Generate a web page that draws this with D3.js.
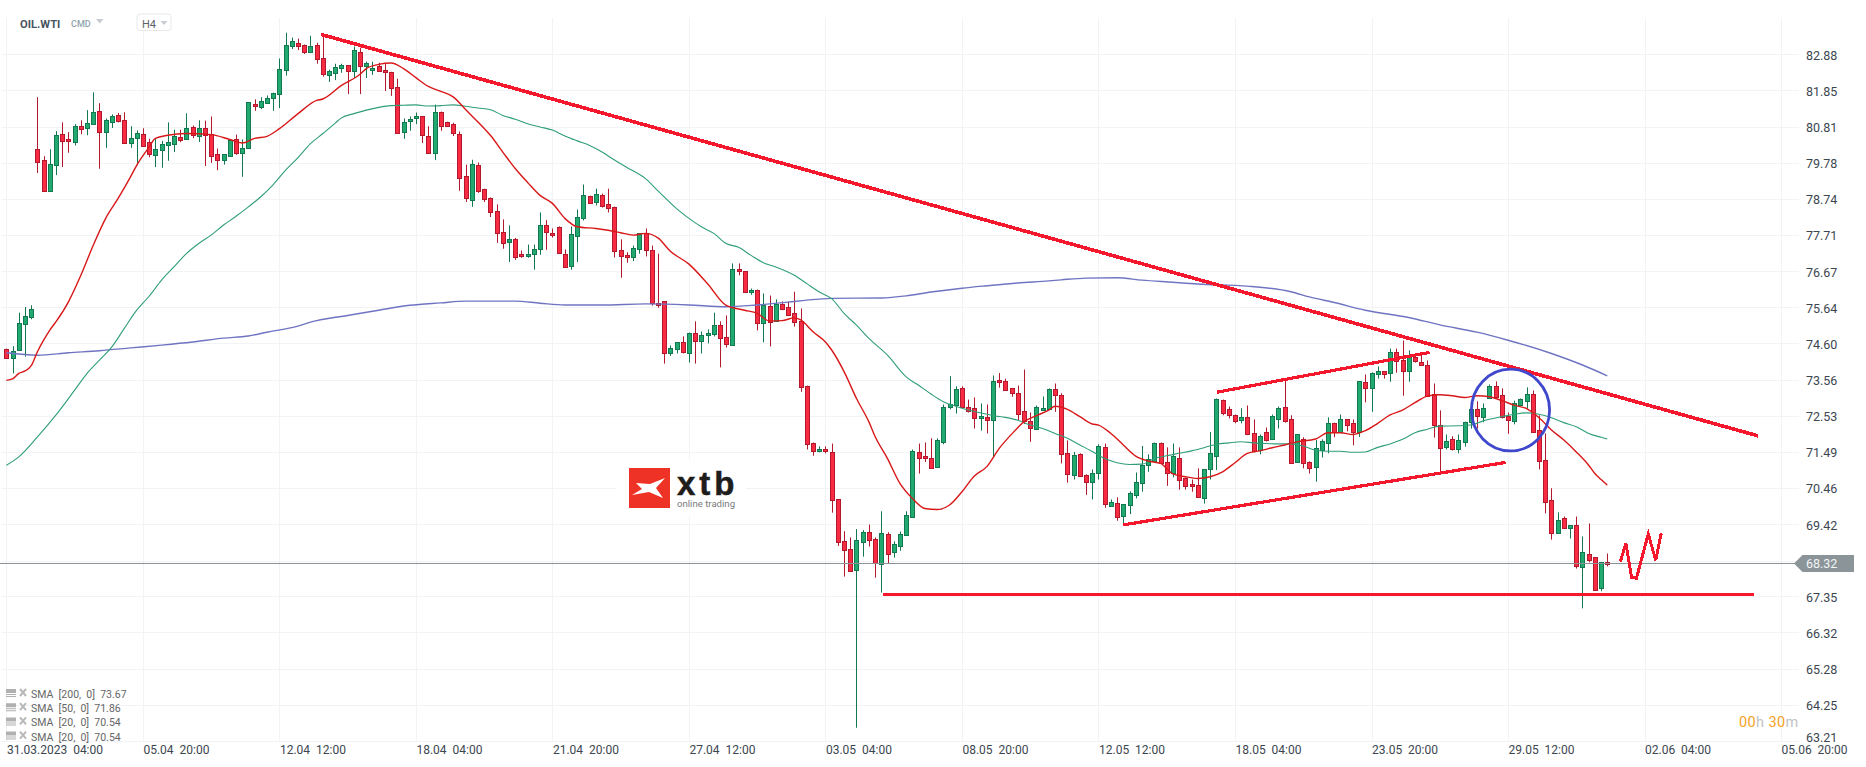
<!DOCTYPE html>
<html><head><meta charset="utf-8">
<script src="https://cdn.jsdelivr.net/npm/d3@7"></script>
<style>html,body{margin:0;padding:0;background:#fff}svg{display:block;font-family:Roboto,sans-serif}</style>
</head><body><svg id="c" width="1866" height="767"></svg>
<script>
const opens=[74.45,74.20,74.39,75.14,75.33,80.18,79.86,78.98,79.72,80.61,
80.44,80.37,80.84,80.78,80.90,81.27,80.66,80.94,81.13,81.01,
80.34,80.49,80.61,80.38,80.00,80.14,80.28,80.31,80.52,80.46,
80.81,80.55,80.78,80.61,80.01,79.85,79.97,80.44,80.06,80.17,
81.47,81.37,81.50,81.64,81.74,82.44,83.13,83.21,83.16,82.95,
83.16,82.78,82.30,82.36,82.49,82.57,82.40,82.96,82.55,82.44,
82.55,82.44,82.38,81.95,80.67,80.98,81.04,81.10,80.55,80.06,
81.24,80.95,80.87,80.61,79.38,78.71,79.72,79.03,78.75,78.38,
77.80,77.52,77.60,77.15,77.09,77.15,77.29,77.98,77.77,77.92,
77.17,76.79,77.69,78.20,78.83,78.66,78.86,78.58,78.52,77.26,
77.12,77.06,77.29,77.75,77.26,75.77,75.80,74.34,74.43,74.63,
74.34,74.91,74.65,74.85,74.88,75.14,74.77,74.57,76.74,76.66,
76.08,76.14,75.20,75.68,75.26,75.74,75.63,75.46,75.23,73.38,
71.76,71.50,71.56,71.50,70.13,68.93,68.70,68.09,68.92,69.21,
68.99,68.27,69.13,68.60,68.78,69.10,69.64,71.50,71.36,71.33,
71.05,71.79,72.76,72.82,73.31,72.79,72.74,72.45,72.48,72.39,
73.54,73.51,73.31,73.19,72.65,72.39,72.16,72.71,72.71,73.28,
73.11,71.45,70.82,71.42,70.82,70.65,70.87,71.62,69.96,70.02,
69.64,69.96,70.25,70.62,71.13,71.25,71.76,71.19,70.87,71.33,
70.73,70.56,70.53,70.16,70.99,71.39,72.99,72.71,72.56,72.39,
72.48,72.02,71.53,72.05,71.85,72.45,72.79,72.42,71.19,71.85,
71.19,71.05,71.53,71.76,72.33,72.05,72.42,72.31,72.05,73.48,
73.31,73.71,73.80,73.74,74.34,74.11,73.79,74.20,74.08,73.99,
73.14,72.25,71.62,71.85,71.56,71.79,72.34,72.71,72.51,73.05,
73.37,73.11,72.51,72.36,72.85,72.96,73.16,72.11,71.25,70.10,
69.16,69.59,69.30,69.39,68.18,68.58,68.47,67.58,68.33];
const highs=[74.45,74.52,75.48,75.64,75.69,81.65,79.96,80.16,80.68,80.93,
80.65,80.88,80.99,81.28,81.79,81.48,81.04,81.16,81.20,81.22,
80.82,80.70,80.76,80.46,80.45,80.40,80.93,80.72,80.72,81.19,
80.84,80.99,80.98,81.10,80.18,80.01,80.43,80.58,80.44,81.50,
81.59,81.65,81.70,81.78,82.76,83.50,83.36,83.33,83.16,83.41,
83.21,83.44,82.44,82.61,82.61,82.57,83.10,83.07,82.67,82.67,
82.64,82.61,82.38,82.18,81.04,81.10,81.21,81.10,80.82,81.44,
81.24,80.95,80.92,80.67,79.72,79.86,79.78,79.03,78.78,78.58,
78.15,77.98,77.62,77.26,77.43,77.43,78.35,78.13,77.89,77.95,
77.29,77.95,78.43,79.15,78.83,79.03,78.89,79.03,78.52,77.58,
77.21,77.40,77.75,77.89,77.40,77.17,75.80,74.54,74.63,74.80,
74.91,75.23,74.94,75.00,75.48,75.23,75.40,76.89,76.89,76.66,
76.17,76.14,76.03,75.97,75.86,75.80,75.80,76.08,75.60,73.39,
71.76,71.65,71.65,71.73,70.13,69.22,69.04,69.28,69.25,69.41,
69.04,69.79,69.19,68.93,69.21,69.79,71.56,71.73,71.76,71.88,
71.88,72.85,73.66,73.37,73.37,72.99,73.05,72.88,72.85,73.68,
73.75,73.59,73.31,73.39,73.85,72.62,72.82,73.08,73.31,73.45,
73.17,71.82,71.49,71.45,70.85,70.99,71.71,71.73,70.13,70.19,
69.99,70.36,70.90,71.66,71.42,71.76,71.76,71.62,71.73,71.62,
70.76,70.70,71.02,70.99,72.06,73.02,72.99,72.79,72.56,72.74,
72.82,72.42,71.99,72.19,72.56,72.79,73.54,72.54,71.99,71.91,
71.22,71.83,71.85,72.48,72.33,72.56,72.42,72.42,73.51,73.71,
73.77,73.94,73.80,74.45,74.45,74.68,74.40,74.31,74.28,74.11,
73.45,72.68,71.99,71.94,71.99,72.36,72.71,72.94,72.88,73.42,
73.51,73.31,72.62,72.96,73.02,73.34,73.25,72.54,72.02,70.45,
69.76,69.64,69.39,69.64,69.07,69.44,68.47,68.33,68.58];
const lows=[74.20,73.74,74.39,74.22,75.29,79.48,78.98,78.98,79.42,79.65,
80.06,80.27,80.59,80.56,80.88,79.60,80.20,80.77,80.93,80.31,
80.20,79.70,80.27,79.93,79.65,79.63,79.83,80.08,80.36,80.46,
80.48,80.37,79.68,79.77,79.56,79.72,79.97,80.00,79.37,80.17,
81.26,81.31,81.46,81.26,81.34,82.27,83.03,83.00,82.89,82.95,
82.61,82.24,82.09,82.14,82.35,81.74,82.21,81.74,82.20,82.29,
82.41,81.83,81.69,80.60,80.46,80.69,80.88,80.34,80.06,79.85,
80.69,80.82,80.54,78.97,78.65,78.51,78.91,78.65,78.22,77.48,
77.31,76.93,76.99,77.05,77.05,76.71,77.14,77.28,77.63,77.16,
76.76,76.71,76.93,78.12,78.60,78.55,78.49,78.35,77.06,76.48,
76.91,76.96,77.17,77.09,75.68,75.62,74.02,74.24,74.31,74.31,
74.05,74.02,74.31,74.60,74.80,73.91,74.48,74.57,76.55,76.05,
75.99,74.97,74.63,74.51,75.26,75.55,75.38,75.08,73.21,71.56,
71.38,71.48,71.45,69.75,68.80,67.92,68.06,63.59,68.49,68.78,
67.89,67.46,68.30,68.46,68.66,69.10,69.64,70.87,71.20,71.02,
71.05,71.71,72.71,72.59,72.76,72.62,72.16,72.10,72.02,71.33,
73.33,73.25,73.07,72.40,72.29,71.78,72.13,72.71,72.71,72.64,
71.16,70.61,70.70,70.79,70.26,70.13,70.70,69.89,69.92,69.52,
69.44,69.71,70.16,70.35,70.92,71.25,71.19,70.52,70.76,70.41,
70.41,70.35,70.19,70.01,70.70,70.97,72.54,72.45,72.31,72.31,
71.97,71.48,71.42,71.79,71.83,72.16,72.33,71.16,71.19,71.02,
70.87,70.64,71.33,71.45,71.91,72.05,72.08,71.68,71.92,72.91,
72.64,73.59,73.59,73.50,73.76,73.10,73.50,74.05,73.97,73.11,
71.90,70.93,71.56,71.53,71.45,71.64,72.16,72.16,72.34,73.05,
73.05,72.45,72.01,72.28,72.85,72.73,72.08,70.99,69.73,68.98,
69.16,69.30,69.01,68.15,67.01,68.33,67.53,67.50,68.21];
const closes=[74.20,74.39,75.17,75.37,75.57,79.80,78.98,79.75,80.58,80.41,
80.37,80.84,80.74,80.92,81.24,80.66,81.01,81.10,80.97,80.34,
80.47,80.64,80.28,80.03,80.18,80.32,80.38,80.55,80.43,80.78,
80.58,80.78,80.58,79.97,79.85,80.01,80.43,80.03,80.21,81.50,
81.40,81.53,81.64,81.78,82.47,83.16,83.27,83.13,82.95,83.13,
82.75,82.33,82.41,82.53,82.58,82.40,82.99,82.56,82.64,82.50,
82.41,82.37,81.93,80.63,80.95,81.04,81.10,80.55,80.06,81.24,
80.84,80.84,80.60,79.35,78.75,79.75,78.97,78.74,78.35,77.75,
77.49,77.60,77.09,77.09,77.15,77.29,77.98,77.77,77.72,77.17,
76.79,77.72,78.23,78.86,78.63,78.89,78.55,78.46,77.26,77.09,
77.06,77.32,77.75,77.26,75.73,75.71,74.31,74.48,74.63,74.34,
74.91,74.68,74.83,74.91,75.14,74.77,74.57,76.74,76.69,76.07,
76.14,75.20,75.71,75.23,75.74,75.60,75.40,75.20,73.34,71.73,
71.53,71.56,71.50,70.13,68.90,68.66,68.06,68.96,69.21,68.98,
68.30,69.16,68.55,68.84,69.13,69.67,71.53,71.33,71.30,71.05,
71.82,72.79,72.85,73.28,72.76,72.68,72.45,72.51,72.39,73.51,
73.48,73.25,73.17,72.59,72.36,72.19,72.79,72.76,73.28,73.11,
71.42,70.85,71.39,70.79,70.62,70.90,71.65,69.99,70.07,69.63,
69.99,70.30,70.62,71.13,71.30,71.76,71.19,70.87,71.37,70.70,
70.50,70.50,70.19,70.99,71.45,73.02,72.62,72.53,72.39,72.48,
71.99,71.50,71.94,71.82,72.51,72.76,72.39,71.16,71.99,71.16,
71.02,71.59,71.79,72.33,72.08,72.42,72.25,72.05,73.51,73.31,
73.74,73.80,73.71,74.34,74.08,73.79,74.20,74.08,73.99,73.11,
72.25,71.59,71.79,71.56,71.82,72.36,72.71,72.51,72.76,73.39,
73.05,72.48,72.39,72.88,73.02,73.16,72.08,71.22,70.04,69.16,
69.53,69.30,69.39,68.21,68.61,68.41,67.53,68.33,68.27];

// moving averages: [bar index]
const sma20=[[0,73.54],[1,73.58],[2,73.74],[3,73.81],[4,73.96],[5,74.36],[6,74.69],[7,74.98],[8,75.22],[10,75.79],[12,76.55],[14,77.41],[16,78.18],[18,78.75],[20,79.37],[21,79.70],[23,80.22],[24,80.47],[26,80.56],[29,80.61],[33,80.58],[36,80.44],[38,80.34],[40,80.47],[42,80.53],[44,80.75],[47,81.18],[50,81.56],[51,81.60],[54,81.99],[57,82.31],[58,82.47],[60,82.59],[62,82.63],[64,82.47],[66,82.21],[68,81.96],[70,81.82],[72,81.66],[74,81.30],[76,80.94],[78,80.56],[80,80.08],[82,79.61],[84,79.21],[86,78.84],[88,78.61],[90,78.18],[92,77.94],[95,77.89],[97,77.84],[99,77.77],[101,77.70],[103,77.75],[105,77.62],[107,77.24],[110,76.87],[113,76.31],[116,75.69],[119,75.55],[121,75.46],[123,75.24],[125,75.25],[127,75.33],[128,75.27],[130,74.93],[132,74.64],[133,74.41],[135,73.79],[137,73.02],[139,72.35],[140,71.93],[142,71.30],[144,70.59],[146,70.16],[148,69.87],[150,69.84],[152,69.97],[154,70.35],[156,70.80],[158,71.07],[160,71.59],[162,72.00],[164,72.35],[166,72.53],[168,72.69],[169,72.80],[171,72.71],[173,72.50],[175,72.29],[176,72.26],[178,72.02],[180,71.69],[182,71.37],[184,71.23],[186,71.16],[188,70.86],[190,70.78],[192,70.73],[194,70.78],[196,70.92],[198,71.18],[200,71.45],[202,71.52],[204,71.61],[206,71.69],[208,71.78],[211,71.86],[213,72.04],[215,72.04],[217,71.99],[219,72.10],[221,72.31],[223,72.55],[225,72.69],[227,72.90],[229,73.09],[231,73.13],[233,73.10],[235,73.05],[237,73.10],[239,73.07],[241,72.96],[243,72.83],[245,72.73],[247,72.47],[249,72.12],[251,71.83],[253,71.49],[255,71.11],[256,70.87],[257,70.70],[258,70.54]];
const sma50=[[0,71.11],[2,71.35],[5,71.92],[8,72.55],[11,73.26],[13,73.74],[15,74.12],[17,74.50],[19,75.03],[21,75.55],[23,75.95],[25,76.41],[27,76.79],[29,77.17],[31,77.46],[33,77.70],[35,77.99],[37,78.24],[39,78.51],[41,78.80],[43,79.15],[45,79.56],[47,79.92],[49,80.32],[51,80.61],[53,80.91],[54,81.06],[56,81.18],[58,81.28],[60,81.36],[62,81.41],[64,81.42],[66,81.43],[68,81.40],[70,81.41],[72,81.43],[74,81.39],[76,81.34],[78,81.29],[80,81.13],[82,81.02],[84,80.89],[86,80.80],[88,80.71],[90,80.54],[92,80.40],[94,80.27],[96,80.08],[98,79.85],[100,79.64],[103,79.32],[105,78.97],[108,78.46],[110,78.18],[112,77.94],[114,77.75],[116,77.46],[118,77.35],[120,77.12],[122,76.91],[124,76.79],[127,76.55],[129,76.31],[131,76.07],[133,75.88],[135,75.46],[137,75.12],[139,74.74],[142,74.26],[145,73.64],[147,73.40],[149,73.15],[151,72.93],[153,72.80],[155,72.69],[157,72.61],[159,72.53],[161,72.48],[163,72.40],[165,72.26],[167,72.16],[169,72.02],[171,71.88],[173,71.69],[175,71.50],[177,71.30],[179,71.18],[181,71.13],[183,71.14],[185,71.30],[187,71.38],[189,71.45],[191,71.52],[193,71.61],[195,71.71],[197,71.75],[199,71.78],[201,71.75],[203,71.73],[205,71.72],[207,71.72],[209,71.66],[211,71.54],[213,71.51],[215,71.51],[217,71.48],[219,71.49],[221,71.62],[223,71.72],[225,71.85],[227,72.04],[229,72.14],[231,72.23],[234,72.24],[236,72.26],[238,72.38],[241,72.50],[243,72.57],[245,72.61],[247,72.57],[249,72.47],[251,72.33],[253,72.21],[255,72.02],[257,71.91],[258,71.86]];
const sma200=[[0,74.33],[5,74.26],[10,74.33],[15,74.39],[20,74.47],[25,74.55],[30,74.64],[35,74.75],[39,74.81],[42,74.92],[46,75.05],[50,75.25],[55,75.40],[60,75.55],[65,75.69],[70,75.76],[74,75.81],[82,75.81],[86,75.75],[90,75.70],[96,75.70],[103,75.73],[110,75.70],[116,75.65],[121,75.70],[126,75.78],[129,75.84],[133,75.89],[141,75.90],[145,75.96],[149,76.07],[154,76.18],[158,76.25],[163,76.33],[168,76.39],[170,76.42],[174,76.47],[179,76.48],[183,76.41],[188,76.35],[192,76.30],[200,76.24],[207,76.08],[210,75.93],[214,75.77],[219,75.55],[226,75.34],[231,75.13],[237,74.92],[242,74.69],[249,74.31],[254,73.98],[258,73.67]];

const priceTicks=[82.88,81.85,80.81,79.78,78.74,77.71,76.67,75.64,74.60,73.56,72.53,71.49,70.46,69.42,67.35,66.32,65.28,64.25,63.21];
const hiddenGridTick=[68.38];
const timeIdx=[0,22,44,66,88,110,132,154,176,198,220,242,264,286];
const timeLabels=["31.03.2023  04:00","05.04  20:00","12.04  12:00","18.04  04:00","21.04  20:00","27.04  12:00","03.05  04:00","08.05  20:00","12.05  12:00","18.05  04:00","23.05  20:00","29.05  12:00","02.06  04:00","05.06  20:00"];
const lastPrice=68.32;
const legendRows=["SMA  [200,  0]  73.67","SMA  [50,  0]  71.86","SMA  [20,  0]  70.54","SMA  [20,  0]  70.54"];
// drawn annotations as [bar index, price]
const resistance=[[50.7,83.45],[282.3,71.95]];
const channelLow=[[180.0,69.40],[241.6,71.19]];
const channelHigh=[[195.06,73.20],[229.35,74.34]];
const support=[[141.2,67.41],[281.7,67.41]];
const scribble=[[260.1,68.35],[261.0,68.87],[261.9,67.90],[262.7,67.87],[264.6,69.14],[265.8,68.39],[266.7,69.16]];
const ring={i:242.4,p:72.69,ri:6.3,rp:1.17};

const svg=d3.select("#c");
const x=d3.scaleLinear().domain([0,22]).range([6.4,142.91]);
const y=d3.scaleLinear().domain([82.88,63.21]).range([54.3,741]);
const gridCol="#f1f3f5",up="#22a96f",upS="#12784f",dn="#f72c43",dnS="#b3182c",tl="#f5182c";

// grid
const g=svg.append("g");
g.selectAll(".h").data(priceTicks.concat(hiddenGridTick)).join("line")
 .attr("x1",2).attr("x2",1799).attr("y1",d=>Math.round(y(d))+.5).attr("y2",d=>Math.round(y(d))+.5).attr("stroke",gridCol);
g.selectAll(".v").data(timeIdx).join("line")
 .attr("x1",d=>Math.round(x(d))+.5).attr("x2",d=>Math.round(x(d))+.5).attr("y1",18).attr("y2",741).attr("stroke",gridCol);

// logo
const logo=svg.append("g");
logo.append("rect").attr("x",616).attr("y",460).attr("width",130).attr("height",56).attr("fill","#fff");
logo.append("rect").attr("x",629).attr("y",468).attr("width",41).attr("height",40).attr("fill","#ef3226");
logo.append("path").attr("d","M636,483L650,484L665,478L656,488L663,498L649,492L632,495L642,489Z").attr("fill","#fff");
logo.append("text").attr("x",677).attr("y",495).attr("font-family","Liberation Sans,Arial,sans-serif").attr("font-weight",700).attr("font-size",33).attr("letter-spacing",4).attr("fill","#1f1c1c").attr("stroke","#1f1c1c").attr("stroke-width",.5).text("xtb");
logo.append("text").attr("x",677).attr("y",506.5).attr("font-size",9.6).attr("fill","#7a7a7a").text("online trading");

// candles
const bars=d3.range(opens.length);
const cx=i=>Math.round(x(i))+.5;
const c=svg.append("g");
c.selectAll("line").data(bars).join("line")
 .attr("x1",cx).attr("x2",cx).attr("y1",i=>y(highs[i])).attr("y2",i=>y(lows[i]))
 .attr("stroke",i=>closes[i]>=opens[i]?upS:dnS);
c.selectAll("rect").data(bars).join("rect")
 .attr("x",i=>cx(i)-2).attr("width",4)
 .attr("y",i=>Math.round(y(Math.max(opens[i],closes[i])))+.5)
 .attr("height",i=>Math.max(1,Math.round(Math.abs(y(opens[i])-y(closes[i])))))
 .attr("fill",i=>closes[i]>=opens[i]?up:dn)
 .attr("stroke",i=>closes[i]>=opens[i]?upS:dnS);

// price line
svg.append("line").attr("x1",0).attr("x2",1795).attr("y1",Math.round(y(lastPrice))+.5).attr("y2",Math.round(y(lastPrice))+.5).attr("stroke","#8a9296").attr("stroke-width",1.2);

// SMAs
const line=d3.line().x(d=>x(d[0])).y(d=>y(d[1])).curve(d3.curveMonotoneX);
[[sma200,"#6f74c2",1.4],[sma50,"#2f9e78",1.1],[sma20,"#d81818",1.4]].forEach(([d,col,w])=>{
 svg.append("path").attr("d",line(d)).attr("fill","none").attr("stroke",col).attr("stroke-width",w);
});

// annotations
const seg=d3.line().x(d=>x(d[0])).y(d=>y(d[1]));
[[resistance,3.6],[channelLow,3.2],[channelHigh,3.2],[support,3.2],[scribble,3]].forEach(([d,w])=>{
 svg.append("path").attr("d",seg(d)).attr("fill","none").attr("stroke",tl).attr("stroke-width",w).attr("shape-rendering","crispEdges");
});
svg.append("ellipse").attr("cx",x(ring.i)).attr("cy",y(ring.p))
 .attr("rx",x(ring.ri)-x(0)).attr("ry",y(0)-y(ring.rp)).attr("fill","none").attr("stroke","#3f48cc").attr("stroke-width",2.8);

// axes
const ya=svg.append("g").attr("transform","translate(1798,0)")
 .call(d3.axisRight(y).tickValues(priceTicks).tickSize(0).tickPadding(8).tickFormat(d3.format(".2f")));
ya.select(".domain").remove();
ya.selectAll("text").attr("font-size",12.5).attr("font-family","Roboto,sans-serif").attr("fill","#3b4650")
 .attr("transform",d=>`translate(0,${d===63.21?-3.5:1})`);
const xa=svg.append("g").attr("transform","translate(0,741)")
 .call(d3.axisBottom(x).tickValues(timeIdx).tickSize(0).tickPadding(4).tickFormat(i=>timeLabels[timeIdx.indexOf(i)]));
xa.select(".domain").remove();
xa.selectAll("text").attr("font-size",12).attr("font-family","Roboto,sans-serif").attr("fill","#3b4650").attr("text-anchor","start").style("white-space","pre");

// last price tag
const ty=Math.round(y(lastPrice))+.5;
svg.append("path").attr("d",`M1794,${ty}L1802.5,${ty-8.5}H1854V${ty+8.5}H1802.5Z`).attr("fill","#8b9599");
svg.append("text").attr("x",1806).attr("y",ty+4.5).attr("font-size",12.5).attr("fill","#f2f4f5").text(d3.format(".2f")(lastPrice));

// header
svg.append("text").attr("x",20).attr("y",27.5).attr("font-size",11.2).attr("font-weight",700).attr("fill","#4a5560").text("OIL.WTI");
svg.append("text").attr("x",71).attr("y",26.5).attr("font-size",9).attr("font-weight",500).attr("fill","#8fa3ad").text("CMD");
svg.append("path").attr("d","M96,19H103.5L99.75,23.5Z").attr("fill","#c8ccd0");
svg.append("rect").attr("x",137).attr("y",14).attr("width",34).attr("height",16.5).attr("rx",3).attr("fill","#fff").attr("stroke","#e6e8ea");
svg.append("text").attr("x",142).attr("y",28).attr("font-size",11).attr("fill","#5a6268").text("H4");
svg.append("path").attr("d","M160.5,21H167.5L164,25Z").attr("fill","#c8ccd0");

// legend
const lg=svg.append("g").selectAll("g").data(legendRows).join("g").attr("transform",(d,i)=>`translate(0,${694+i*14.2})`);
lg.append("path").attr("d","M6,-5H16V-1H6ZM6,0H16V1H6ZM6,2H16V3H6Z").attr("fill","#b0b0b0");
lg.append("path").attr("d","M20,-5L26,2M26,-5L20,2").attr("stroke","#b8b8b8").attr("stroke-width",2);
lg.append("text").attr("x",31).attr("y",4).attr("font-size",10.5).attr("fill","#666").style("white-space","pre").text(d=>d);

// countdown
const t=svg.append("text").attr("x",1739).attr("y",727).attr("font-size",14.5).attr("letter-spacing",.4).attr("fill","#f7a125");
t.append("tspan").text("00");
t.append("tspan").attr("fill","#bfc3c6").text("h ");
t.append("tspan").text("30");
t.append("tspan").attr("fill","#bfc3c6").text("m");
</script></body></html>
